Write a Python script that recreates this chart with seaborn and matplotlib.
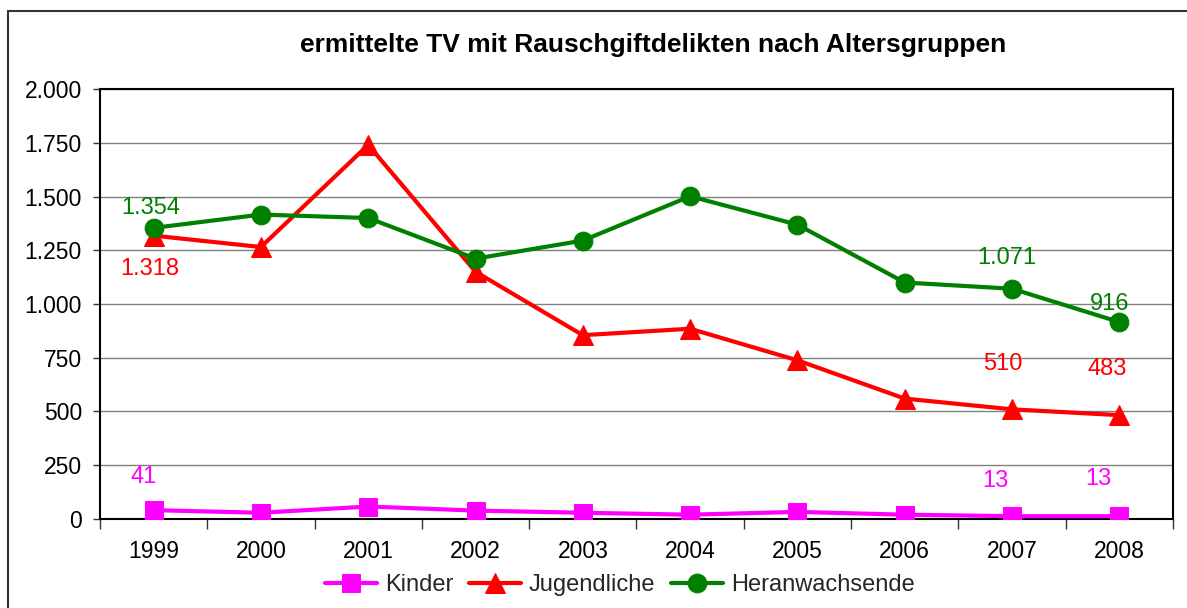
import numpy as np
import pandas as pd
import seaborn as sns
from matplotlib import pyplot as plt
from matplotlib.patches import Rectangle
from matplotlib.ticker import FuncFormatter

years = ['1999', '2000', '2001', '2002', '2003', '2004', '2005', '2006', '2007', '2008']
kinder = [41, 29, 58, 39, 29, 20, 33, 20, 13, 13]
jugendliche = [1318, 1265, 1740, 1150, 855, 885, 738, 560, 510, 483]
heranwachsende = [1354, 1416, 1400, 1211, 1295, 1501, 1369, 1100, 1071, 916]

# which points got a value label in the original, and the label offset in points
labels_kinder = {0: (-7, 24), 8: (-12, 25), 9: (-15, 27)}
labels_jug = {0: (-3, -24), 8: (-7, 33), 9: (-9, 33)}
labels_her = {0: (-2, 14), 8: (-4, 22), 9: (-7, 13)}

sns.set_theme(style="white")
plt.rcParams['font.family'] = ['Liberation Sans', 'DejaVu Sans']

df = pd.DataFrame({'pos': np.arange(len(years)), 'Kinder': kinder,
                   'Jugendliche': jugendliche, 'Heranwachsende': heranwachsende})

fig = plt.figure(figsize=(11.87, 6.08), dpi=100)
ax = fig.add_axes([0.0842, 0.1464, 0.904, 0.7072])

series = [('Kinder', '#FF00FF', 's', 13.5, labels_kinder),
          ('Jugendliche', '#FF0000', '^', 15, labels_jug),
          ('Heranwachsende', '#008000', 'o', 13.5, labels_her)]

for name, col, mk, ms, lab in series:
    sns.lineplot(data=df, x='pos', y=name, ax=ax, color=col, marker=mk,
                 markersize=ms, markeredgecolor=col, linewidth=3, label=name,
                 sort=False, zorder=3)
    for i, (dx, dy) in lab.items():
        v = df[name][i]
        ax.annotate(f"{v:,}".replace(",", "."), (df['pos'][i], v),
                    xytext=(dx, dy), textcoords='offset points',
                    ha='center', va='center', color=col, fontsize=17)

ax.set_xlim(-0.5, 9.5)
ax.set_ylim(0, 2000)
ax.set_yticks(np.arange(0, 2001, 250))
ax.yaxis.set_major_formatter(FuncFormatter(lambda v, p: f"{int(v):,}".replace(",", ".")))
ax.set_xticks(np.arange(len(years)))
ax.set_xticklabels(years)
ax.set_xticks(np.arange(-0.5, 10, 1), minor=True)
ax.tick_params(axis='x', which='major', length=0, pad=15, labelsize=16.5, colors='black')
ax.tick_params(axis='x', which='minor', length=7, width=1, color='#333333', direction='out', bottom=True)
ax.tick_params(axis='y', which='major', length=5, width=1, color='#333333', direction='out',
               left=True, pad=8, labelsize=16.5, labelcolor='black')
ax.set_xlabel('')
ax.set_ylabel('')

ax.grid(axis='y', color='#808080', linewidth=1)
ax.grid(axis='x', visible=False)
for sp in ax.spines.values():
    sp.set_color('black')
    sp.set_linewidth(1.5)

ax.get_legend().remove()
h, l = ax.get_legend_handles_labels()
fig.legend(h, l, loc='center', bbox_to_anchor=(0.522, 0.038), ncol=3, frameon=False,
           fontsize=17, handlelength=2.2, handletextpad=0.35, columnspacing=0.65)

fig.text(0.55, 0.926, 'ermittelte TV mit Rauschgiftdelikten nach Altersgruppen',
         ha='center', va='center', fontsize=19, fontweight='bold', color='black')

fig.patches.append(Rectangle((0.0067, -0.2), 1.5, 1.1819, transform=fig.transFigure,
                             fill=False, edgecolor='#333333', linewidth=1.5, clip_on=False))

plt.savefig('out.png', dpi=100)
